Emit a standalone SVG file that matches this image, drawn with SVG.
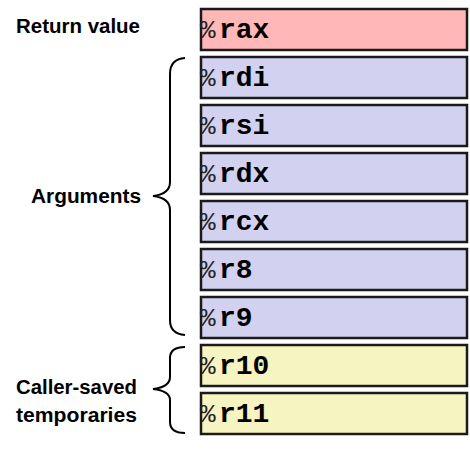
<svg xmlns="http://www.w3.org/2000/svg" width="470" height="451" viewBox="0 0 470 451">
<style>
.box{stroke:#1a1a1a;stroke-width:2.5}
.ret{fill:#ffb7b7}
.arg{fill:#d2d2f0}
.tmp{fill:#f6f4c0}
.reg{font-family:"Liberation Mono",monospace;font-size:28px;font-weight:bold;fill:#000}
.pct{font-weight:normal;font-size:26px;fill:#222}
.lbl{font-family:"Liberation Sans",Arial,sans-serif;font-size:20px;font-weight:bold;fill:#000}
.brace{fill:none;stroke:#000;stroke-width:2}
</style>
<rect width="470" height="451" fill="#fff"/>
<g id="label-return"><text class="lbl" x="16" y="33" textLength="124" lengthAdjust="spacingAndGlyphs">Return value</text></g>
<g id="label-args"><text class="lbl" x="31" y="203" textLength="110" lengthAdjust="spacingAndGlyphs">Arguments</text></g>
<g id="label-caller"><text class="lbl" x="16" y="394" textLength="121" lengthAdjust="spacingAndGlyphs">Caller-saved</text><text class="lbl" x="16" y="422" textLength="121" lengthAdjust="spacingAndGlyphs">temporaries</text></g>
<g id="rax"><rect class="box ret" x="201" y="9" width="266" height="41"/><text class="reg" x="200" y="38"><tspan class="pct">%</tspan><tspan x="219">rax</tspan></text></g>
<g id="rdi"><rect class="box arg" x="201" y="57" width="266" height="41"/><text class="reg" x="200" y="86"><tspan class="pct">%</tspan><tspan x="219">rdi</tspan></text></g>
<g id="rsi"><rect class="box arg" x="201" y="105" width="266" height="41"/><text class="reg" x="200" y="134"><tspan class="pct">%</tspan><tspan x="219">rsi</tspan></text></g>
<g id="rdx"><rect class="box arg" x="201" y="153" width="266" height="41"/><text class="reg" x="200" y="182"><tspan class="pct">%</tspan><tspan x="219">rdx</tspan></text></g>
<g id="rcx"><rect class="box arg" x="201" y="201" width="266" height="41"/><text class="reg" x="200" y="230"><tspan class="pct">%</tspan><tspan x="219">rcx</tspan></text></g>
<g id="r8"><rect class="box arg" x="201" y="249" width="266" height="41"/><text class="reg" x="200" y="278"><tspan class="pct">%</tspan><tspan x="219">r8</tspan></text></g>
<g id="r9"><rect class="box arg" x="201" y="297" width="266" height="41"/><text class="reg" x="200" y="326"><tspan class="pct">%</tspan><tspan x="219">r9</tspan></text></g>
<g id="r10"><rect class="box tmp" x="201" y="345" width="266" height="41"/><text class="reg" x="200" y="374"><tspan class="pct">%</tspan><tspan x="219">r10</tspan></text></g>
<g id="r11"><rect class="box tmp" x="201" y="393" width="266" height="41"/><text class="reg" x="200" y="422"><tspan class="pct">%</tspan><tspan x="219">r11</tspan></text></g>
<g id="connectors">
<path class="brace" d="M185,58 Q170,59 170,74 L170,182 Q170,194 153,196 Q170,198 170,210 L170,320 Q170,334 185,335"/>
<path class="brace" d="M185,347 Q170,347 170,358 L170,377 Q170,387 153,389 Q170,391 170,400 L170,422 Q170,433 185,433"/>
</g>
</svg>
